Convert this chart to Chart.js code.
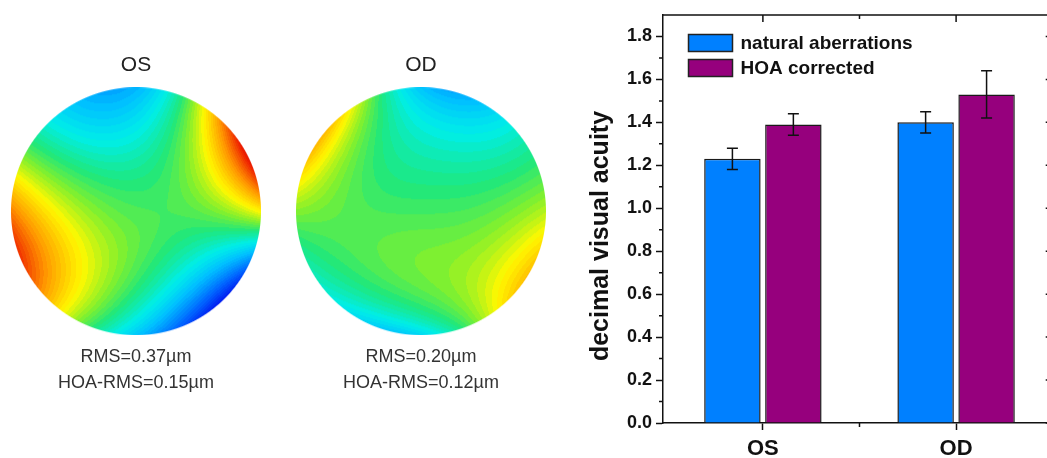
<!DOCTYPE html>
<html>
<head>
<meta charset="utf-8">
<script src="https://cdn.jsdelivr.net/npm/chart.js@4.4.1/dist/chart.umd.min.js"></script>
<style>
  html, body { margin: 0; padding: 0; background: #fff; width: 1047px; height: 458px; overflow: hidden; position: relative; }
  .box { position: absolute; top: 0; }
  #osBox { left: 0; }
  #odBox { left: 285px; }
  #barBox { left: 575px; }
</style>
</head>
<body>
<div class="box" id="osBox"><canvas id="osMap" width="272" height="458"></canvas></div>
<div class="box" id="odBox"><canvas id="odMap" width="272" height="458"></canvas></div>
<div class="box" id="barBox"><canvas id="vaChart" width="490" height="458"></canvas></div>
<script>
// ---- visual acuity (bar chart) ----
const categories = ['OS', 'OD'];
const naturalVA = [1.23, 1.40];
const naturalErr = [0.05, 0.05];
const correctedVA = [1.39, 1.53];
const correctedErr = [0.05, 0.11];
const seriesNames = ['natural aberrations', 'HOA corrected'];
const yTicks = [0, 0.2, 0.4, 0.6, 0.8, 1.0, 1.2, 1.4, 1.6, 1.8];
const yMinorTicks = [0.1, 0.3, 0.5, 0.7, 0.9, 1.1, 1.3, 1.5, 1.7];
const xMinorTicks = [1.5];

// ---- wavefront maps ----
const eyeLabels = ['OS', 'OD'];
const rmsLabels = ['RMS=0.37µm', 'RMS=0.20µm'];
const hoaRmsLabels = ['HOA-RMS=0.15µm', 'HOA-RMS=0.12µm'];
// angular expansion W = c0 + sum rho^(m+s) (cos_m cos(m th) + sin_m sin(m th)), m = 1..4
// plus dome terms d0 (1 - rho^2) + d1 (rho^3 - rho) sin(th)
const osCos = [0.0125, -0.072, 0.19, 0.003, 0.002];
const osSin = [0, 0.055, 0.24, 0.067, 0.049];
const osDome = [0, 0.15];
const osRadialShift = 0.15;
const odCos = [0.0, 0.004, 0.11, 0.013, -0.043];
const odSin = [0, -0.004, -0.14, 0.010, -0.006];
const odDome = [0.005, 0.13];
const odRadialShift = 1;

Chart.defaults.font.family = '"Liberation Sans", Arial, sans-serif';

// rainbow colour table used by the wavefront maps
const rainbow = [
  [0.00, 0, 0, 130], [0.10, 0, 0, 235], [0.22, 0, 100, 255], [0.33, 0, 195, 255],
  [0.40, 0, 238, 232], [0.48, 30, 232, 125], [0.55, 130, 240, 45], [0.63, 255, 248, 0],
  [0.75, 255, 150, 0], [0.87, 238, 30, 0], [1.00, 165, 0, 0]
];
function rainbowAt(t) {
  t = Math.max(0, Math.min(1, t));
  t = Math.round(t * 64) / 64;
  for (let i = 1; i < rainbow.length; i++) {
    if (t <= rainbow[i][0]) {
      const a = rainbow[i - 1], b = rainbow[i];
      const f = (t - a[0]) / (b[0] - a[0]);
      return [a[1] + f * (b[1] - a[1]), a[2] + f * (b[2] - a[2]), a[3] + f * (b[3] - a[3])];
    }
  }
  const l = rainbow[rainbow.length - 1];
  return [l[1], l[2], l[3]];
}

function wavefront(x, y, c) {
  const r = Math.hypot(x, y), th = Math.atan2(y, x);
  let w = c.cos[0];
  for (let m = 1; m < c.cos.length; m++) {
    w += Math.pow(r, m + c.shift) * (c.cos[m] * Math.cos(m * th) + c.sin[m] * Math.sin(m * th));
  }
  w += c.dome[0] * (1 - r * r) + c.dome[1] * (r * r * r - r) * Math.sin(th);
  return w;
}

const wavefrontPlugin = {
  id: 'wavefront',
  beforeDatasetsDraw(chart, args, opts) {
    const { left, top, width, height } = chart.chartArea;
    const xs = chart.scales.x, ys = chart.scales.y;
    const w = Math.round(width), h = Math.round(height);
    const off = document.createElement('canvas');
    off.width = w; off.height = h;
    const octx = off.getContext('2d');
    const img = octx.createImageData(w, h);
    const rx = width / 2;
    for (let py = 0; py < h; py++) {
      const y = ys.getValueForPixel(top + py + 0.5);
      for (let px = 0; px < w; px++) {
        const x = xs.getValueForPixel(left + px + 0.5);
        const r = Math.hypot(x, y);
        const alpha = Math.max(0, Math.min(1, (1 - r) * rx + 0.5));
        if (alpha <= 0) continue;
        const col = rainbowAt(0.5 + wavefront(x, y, opts));
        const k = (py * w + px) * 4;
        img.data[k] = col[0]; img.data[k + 1] = col[1]; img.data[k + 2] = col[2];
        img.data[k + 3] = Math.round(alpha * 255);
      }
    }
    octx.putImageData(img, 0, 0);
    chart.ctx.drawImage(off, left, top);
  }
};

function mapChart(id, idx, cosC, sinC, dome, shift) {
  return new Chart(document.getElementById(id), {
    type: 'scatter',
    data: { datasets: [] },
    options: {
      responsive: false, animation: false, devicePixelRatio: 1,
      layout: { padding: { left: 11, right: 11, top: 53, bottom: 62 } },
      scales: { x: { display: false, min: -1, max: 1 }, y: { display: false, min: -1, max: 1 } },
      plugins: {
        legend: { display: false }, tooltip: { enabled: false },
        title: { display: true, text: eyeLabels[idx], color: '#222', font: { size: 21, weight: 'normal', lineHeight: 1.2 }, padding: { top: 0, bottom: 9 } },
        subtitle: { display: true, position: 'bottom', text: [rmsLabels[idx], hoaRmsLabels[idx]], color: '#333', font: { size: 18, lineHeight: 1.44 }, padding: { top: 9, bottom: 0 } },
        wavefront: { cos: cosC, sin: sinC, dome: dome, shift: shift }
      }
    },
    plugins: [wavefrontPlugin]
  });
}
mapChart('osMap', 0, osCos, osSin, osDome, osRadialShift);
mapChart('odMap', 1, odCos, odSin, odDome, odRadialShift);

// ---- bar chart helpers ----
const ink = '#111';
const errorBarPlugin = {
  id: 'errorBars',
  afterDatasetsDraw(chart) {
    const ctx = chart.ctx, ys = chart.scales.y;
    ctx.save();
    ctx.strokeStyle = ink; ctx.lineWidth = 1.5;
    chart.data.datasets.forEach((ds, di) => {
      chart.getDatasetMeta(di).data.forEach((bar, i) => {
        const v = ds.data[i].y, e = ds.errors[i];
        const yt = ys.getPixelForValue(v + e), yb = ys.getPixelForValue(v - e);
        ctx.beginPath();
        ctx.moveTo(bar.x, yt); ctx.lineTo(bar.x, yb);
        ctx.moveTo(bar.x - 5.5, yt); ctx.lineTo(bar.x + 5.5, yt);
        ctx.moveTo(bar.x - 5.5, yb); ctx.lineTo(bar.x + 5.5, yb);
        ctx.stroke();
      });
    });
    ctx.restore();
  }
};

const framePlugin = {
  id: 'frame',
  afterDraw(chart) {
    const ctx = chart.ctx, xs = chart.scales.x, ys = chart.scales.y;
    const { left, right, top, bottom } = chart.chartArea;
    ctx.save();
    ctx.strokeStyle = ink; ctx.lineWidth = 1.5;
    ctx.beginPath();
    // top and right frame lines
    ctx.moveTo(left, top); ctx.lineTo(right, top); ctx.lineTo(right, bottom);
    // minor ticks on left axis (outward) and right axis (inward)
    yMinorTicks.forEach(v => {
      const p = ys.getPixelForValue(v);
      ctx.moveTo(left, p); ctx.lineTo(left - 4, p);
      ctx.moveTo(right, p); ctx.lineTo(right - 4, p);
    });
    // major ticks on right axis (inward)
    yTicks.forEach(v => {
      const p = ys.getPixelForValue(v);
      ctx.moveTo(right, p); ctx.lineTo(right - 7, p);
    });
    // category ticks on top axis (inward)
    categories.forEach((c, i) => {
      const p = xs.getPixelForValue(i + 1);
      ctx.moveTo(p, top); ctx.lineTo(p, top + 7);
    });
    xMinorTicks.forEach(v => {
      const p = xs.getPixelForValue(v);
      ctx.moveTo(p, bottom); ctx.lineTo(p, bottom + 4);
      ctx.moveTo(p, top); ctx.lineTo(p, top + 4);
    });
    ctx.stroke();
    ctx.restore();
  }
};

const legendPlugin = {
  id: 'boxLegend',
  afterDraw(chart) {
    const ctx = chart.ctx;
    const { left, top } = chart.chartArea;
    ctx.save();
    ctx.font = 'bold 19px "Liberation Sans", Arial, sans-serif';
    ctx.textBaseline = 'middle';
    chart.data.datasets.forEach((ds, i) => {
      const bx = left + 25.5, by = top + 19.5 + i * 25;
      ctx.fillStyle = ds.backgroundColor;
      ctx.fillRect(bx, by, 44, 17);
      ctx.strokeStyle = '#222'; ctx.lineWidth = 1.5;
      ctx.strokeRect(bx, by, 44, 17);
      ctx.fillStyle = ink;
      ctx.fillText(ds.label, bx + 52, by + 9);
    });
    ctx.restore();
  }
};

const yTitlePlugin = {
  id: 'yTitle',
  afterDraw(chart) {
    const ctx = chart.ctx;
    ctx.save();
    ctx.translate(26, 236);
    ctx.rotate(-Math.PI / 2);
    ctx.font = 'bold 25px "Liberation Sans", Arial, sans-serif';
    ctx.fillStyle = ink;
    ctx.textAlign = 'center';
    ctx.textBaseline = 'middle';
    ctx.fillText('decimal visual acuity', 0, 0);
    ctx.restore();
  }
};

new Chart(document.getElementById('vaChart'), {
  type: 'bar',
  data: {
    datasets: [
      {
        label: seriesNames[0],
        data: categories.map((c, i) => ({ x: i + 1, y: naturalVA[i] })),
        errors: naturalErr,
        backgroundColor: '#0080FF', borderColor: '#1a1a1a', borderWidth: 1.5,
        categoryPercentage: 0.631, barPercentage: 0.926
      },
      {
        label: seriesNames[1],
        data: categories.map((c, i) => ({ x: i + 1, y: correctedVA[i] })),
        errors: correctedErr,
        backgroundColor: '#96007D', borderColor: '#1a1a1a', borderWidth: 1.5,
        categoryPercentage: 0.631, barPercentage: 0.926
      }
    ]
  },
  options: {
    responsive: false, animation: false, devicePixelRatio: 1,
    layout: { padding: { left: 0, right: 12.3, top: 15, bottom: 0 } },
    scales: {
      x: {
        type: 'linear', min: 0.483, max: 2.5, bounds: 'data', offset: false,
        afterBuildTicks: s => { s.ticks = categories.map((c, i) => ({ value: i + 1 })); },
        afterFit: s => { s.height = 35; },
        ticks: {
          callback: v => categories[Math.round(v) - 1],
          color: ink, font: { size: 22, weight: 'bold' }, padding: 6, maxRotation: 0
        },
        grid: { display: true, drawOnChartArea: false, drawTicks: true, tickLength: 7, tickColor: ink, tickWidth: 1.5, offset: false },
        border: { display: true, color: ink, width: 1.5 }
      },
      y: {
        min: 0, max: 1.9, bounds: 'data',
        afterBuildTicks: s => { s.ticks = yTicks.map(v => ({ value: v })); },
        afterFit: s => { s.width = 88; },
        ticks: {
          callback: v => Number(v).toFixed(1),
          color: ink, font: { size: 18, weight: 'bold' }, padding: 4
        },
        grid: { display: true, drawOnChartArea: false, drawTicks: true, tickLength: 7, tickColor: ink, tickWidth: 1.5 },
        border: { display: true, color: ink, width: 1.5 }
      }
    },
    plugins: { legend: { display: false }, tooltip: { enabled: false } }
  },
  plugins: [errorBarPlugin, framePlugin, legendPlugin, yTitlePlugin]
});
</script>
</body>
</html>
